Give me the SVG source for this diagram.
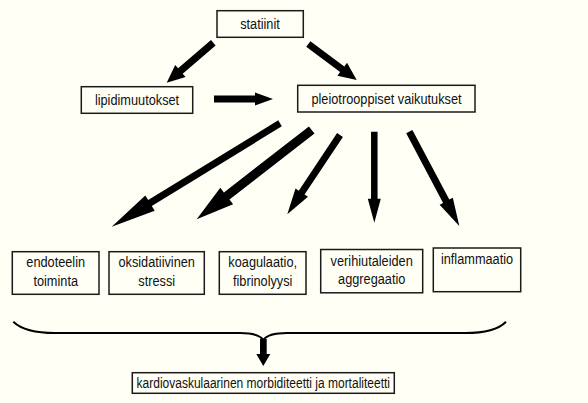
<svg xmlns="http://www.w3.org/2000/svg" width="588" height="403" viewBox="0 0 588 403">
<style>
.bg{fill:#fffff5}
.box{fill:#fffff5;stroke:#1a1a1a;stroke-width:1.5}
.t{font-family:"Liberation Sans",Arial,sans-serif;font-size:15px;fill:#111;text-anchor:middle;transform-box:fill-box;transform-origin:center;transform:scaleX(0.85)}
.t.n{transform:scaleX(0.8)}
.arr{fill:#000}
.brace{fill:none;stroke:#000;stroke-width:2}
</style>
<rect class="bg" x="0" y="0" width="588" height="403"/>
<g id="statiinit"><rect class="box" x="217" y="10.7" width="86.3" height="26.6"/><text class="t" x="260" y="29">statiinit</text></g>
<g id="lipidimuutokset"><rect class="box" x="81.3" y="86.7" width="111.4" height="26.6"/><text class="t" x="137" y="105">lipidimuutokset</text></g>
<g id="pleiotrooppiset"><rect class="box" x="297.7" y="85.3" width="177.3" height="26.7"/><text class="t" x="386.5" y="104">pleiotrooppiset vaikutukset</text></g>
<g id="endoteelin"><rect class="box" x="12.3" y="251.7" width="86.7" height="42.6"/><text class="t" x="55.7" y="267.5">endoteelin</text><text class="t" x="55.7" y="286.5">toiminta</text></g>
<g id="oksidatiivinen"><rect class="box" x="109" y="251.7" width="95.3" height="42.6"/><text class="t" x="156.7" y="267.5">oksidatiivinen</text><text class="t" x="156.7" y="286.5">stressi</text></g>
<g id="koagulaatio"><rect class="box" x="219.3" y="251.7" width="86.7" height="42.6"/><text class="t" x="262.7" y="267.5">koagulaatio,</text><text class="t" x="262.7" y="286.5">fibrinolyysi</text></g>
<g id="verihiutaleiden"><rect class="box" x="320.7" y="249.5" width="102" height="43.3"/><text class="t" x="371.7" y="266">verihiutaleiden</text><text class="t" x="371.7" y="284.5">aggregaatio</text></g>
<g id="inflammaatio"><rect class="box" x="433.3" y="248" width="87.4" height="43.7"/><text class="t" x="477" y="264">inflammaatio</text></g>
<g id="kardiovaskulaarinen"><rect class="box" x="132.3" y="372.7" width="262" height="20.6"/><text class="t n" x="263.3" y="388">kardiovaskulaarinen morbiditeetti ja mortaliteetti</text></g>
<g id="connectors">
<polygon class="arr" points="211.0,40.0 178.1,68.3 175.2,64.9 166.7,82.7 185.6,77.1 182.7,73.7 215.6,45.4"/>
<polygon class="arr" points="306.2,46.8 340.1,72.1 337.4,75.7 356.7,80 347.0,62.8 344.3,66.4 310.4,41.2"/>
<polygon class="arr" points="214,95.5 255,95.5 255,92.5 273,99 255,105.5 255,102.5 214,102.5"/>
<polygon class="arr" points="278.2,120.3 148.2,200.1 145.3,195.4 111.7,226.7 154.7,210.8 151.8,206.1 281.8,126.3"/>
<polygon class="arr" points="308.9,126.4 223.9,192.4 220.3,187.7 196.7,219.3 233.1,204.3 229.5,199.6 314.5,133.6"/>
<polygon class="arr" points="337.1,133.1 298.8,190.7 295.5,188.4 287.3,214.3 308.0,196.8 304.6,194.5 342.9,136.9"/>
<polygon class="arr" points="371.05,131.7 371.05,198.7 367.8,198.7 374.3,222.7 380.8,198.7 377.55,198.7 377.55,131.7"/>
<polygon class="arr" points="406.2,133.3 443.1,202.9 439.6,204.8 459.3,226 452.8,197.7 449.3,199.6 412.4,130.1"/>
<path class="brace" d="M13.3,321.7 C22,330 35,333 55,333 L240,333 C253,333 260,335 263.3,340 C266.7,335 274,333 287,333 L465,333 C485,333 498,330 506,321.7"/>
<polygon class="arr" points="260,339 260,354 256.3,354 263.3,366 270.3,354 266.7,354 266.7,339"/>
</g>
</svg>
